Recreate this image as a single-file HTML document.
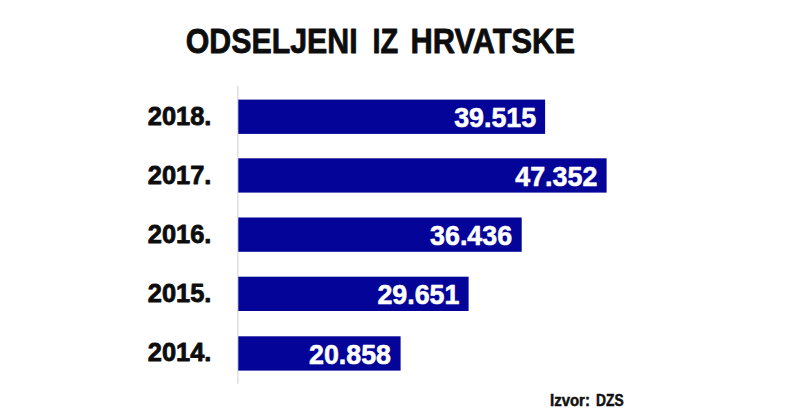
<!DOCTYPE html>
<html>
<head>
<meta charset="utf-8">
<title>Odseljeni iz Hrvatske</title>
<style>
html,body{margin:0;padding:0;background:#fff;}
body{width:800px;height:420px;overflow:hidden;font-family:"Liberation Sans",sans-serif;}
svg{display:block;}
text{font-family:"Liberation Sans",sans-serif;font-weight:700;}
.t{fill:#0d0d0d;stroke:#0d0d0d;stroke-width:0.8px;stroke-linejoin:round;font-size:35.5px;}
.y{fill:#0d0d0d;stroke:#0d0d0d;stroke-width:0.8px;stroke-linejoin:round;font-size:25.3px;}
.v{fill:#ffffff;stroke:#ffffff;stroke-width:0.6px;stroke-linejoin:round;font-size:28px;}
.s{fill:#111;stroke:#111;stroke-width:0.5px;stroke-linejoin:round;font-size:15.9px;}
</style>
</head>
<body>
<svg width="800" height="420" viewBox="0 0 800 420">
<rect x="0" y="0" width="800" height="420" fill="#ffffff"/>
<!-- axis -->
<rect x="237.2" y="85.8" width="1.3" height="297.9" fill="#dadada"/>
<!-- bars -->
<g fill="#040498">
<rect x="238.3" y="99.6" width="306.8" height="34.3"/>
<rect x="238.3" y="158.3" width="368.3" height="34.3"/>
<rect x="238.3" y="217.5" width="283.4" height="34.3"/>
<rect x="238.3" y="276.7" width="230.3" height="34.3"/>
<rect x="238.3" y="336.3" width="162.3" height="34.3"/>
</g>
<!-- title -->
<text class="t" x="185.7" y="53.3" textLength="172" lengthAdjust="spacingAndGlyphs">ODSELJENI</text>
<text class="t" x="372.4" y="53.3" textLength="25.8" lengthAdjust="spacingAndGlyphs">IZ</text>
<text class="t" x="410.4" y="53.3" textLength="164.6" lengthAdjust="spacingAndGlyphs">HRVATSKE</text>
<!-- years -->
<text class="y" x="147.8" y="124.9" textLength="63.6" lengthAdjust="spacingAndGlyphs">2018.</text>
<text class="y" x="147.8" y="183.8" textLength="63.6" lengthAdjust="spacingAndGlyphs">2017.</text>
<text class="y" x="147.8" y="243.0" textLength="63.6" lengthAdjust="spacingAndGlyphs">2016.</text>
<text class="y" x="147.8" y="302.2" textLength="63.6" lengthAdjust="spacingAndGlyphs">2015.</text>
<text class="y" x="147.8" y="360.9" textLength="63.6" lengthAdjust="spacingAndGlyphs">2014.</text>
<!-- values -->
<text class="v" x="454.2" y="127.0" textLength="82" lengthAdjust="spacingAndGlyphs">39.515</text>
<text class="v" x="515.3" y="185.8" textLength="82" lengthAdjust="spacingAndGlyphs">47.352</text>
<text class="v" x="430.1" y="245.2" textLength="82" lengthAdjust="spacingAndGlyphs">36.436</text>
<text class="v" x="377.4" y="304.3" textLength="82" lengthAdjust="spacingAndGlyphs">29.651</text>
<text class="v" x="309.0" y="363.8" textLength="82" lengthAdjust="spacingAndGlyphs">20.858</text>
<!-- source -->
<text class="s" x="550" y="405.8" textLength="39.9" lengthAdjust="spacingAndGlyphs">Izvor:</text>
<text class="s" x="596" y="405.8" textLength="27.6" lengthAdjust="spacingAndGlyphs">DZS</text>
</svg>
</body>
</html>
